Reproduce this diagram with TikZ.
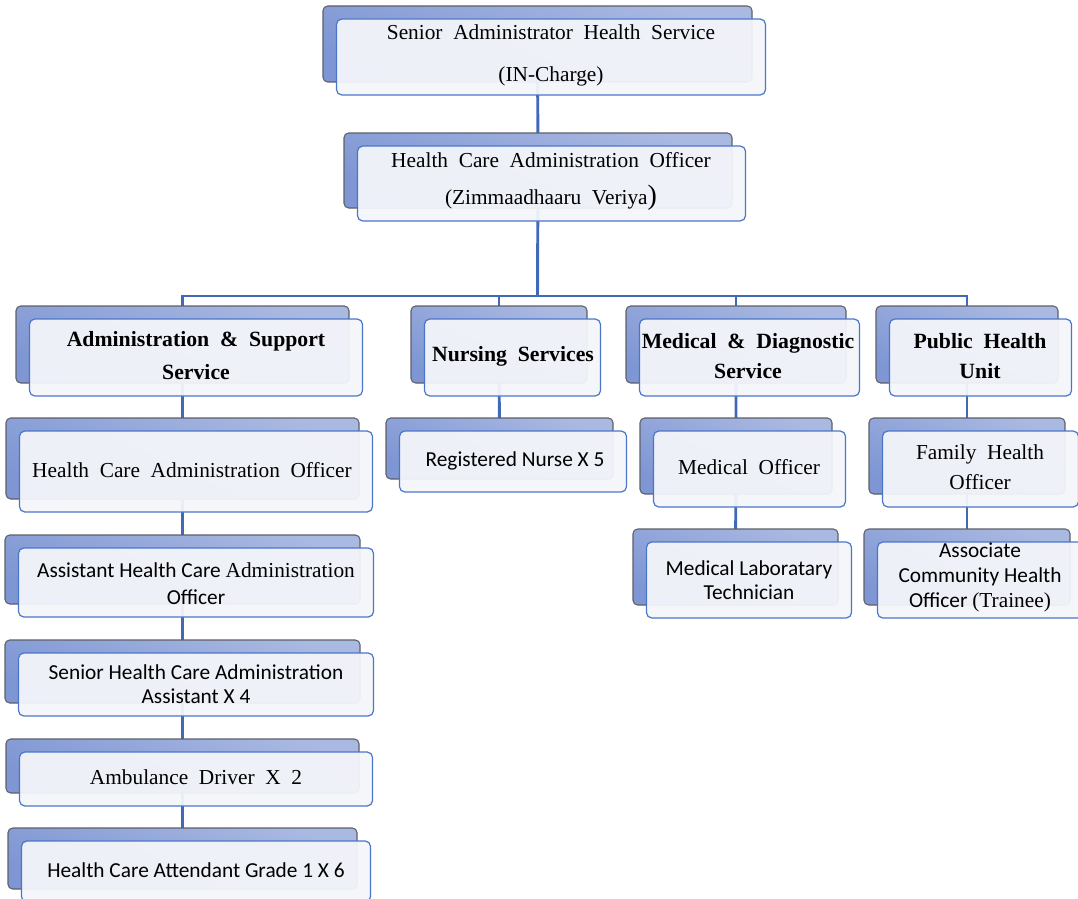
\documentclass[tikz,border=0pt]{standalone}
\usepackage{fontspec}
\setmainfont{Liberation Serif}[WordSpace=2]
\newfontfamily\tms{Liberation Serif}[WordSpace=2]
\newfontfamily\calib{Carlito}
\usetikzlibrary{backgrounds}
\definecolor{backtop}{HTML}{AAB9E2}
\definecolor{backbot}{HTML}{7E96D3}
\definecolor{backedge}{HTML}{5E6068}
\definecolor{frontedge}{HTML}{4A76CA}
\definecolor{frontfill}{HTML}{F4F5FA}
\definecolor{connc}{HTML}{4069B8}
\tikzset{
  backbox/.style={rectangle, rounded corners=3.5pt, draw=backedge, line width=0.8pt,
    top color=backtop, bottom color=backbot, shading angle=-25, inner sep=0pt, outer sep=0pt},
  frontbox/.style={rectangle, rounded corners=4pt, draw=frontedge, line width=0.9pt,
    fill=frontfill, fill opacity=0.95, inner sep=0pt, outer sep=0pt},
  conn/.style={draw=connc, line width=2.2pt},
  serif/.style={align=center, inner sep=0pt, font=\tms\fontsize{16}{#1}\selectfont},
  serif/.default=22.5,
  bserif/.style={align=center, inner sep=0pt, font=\tms\bfseries\fontsize{16.3}{#1}\selectfont},
  bserif/.default=22.5,
  sans/.style={align=center, inner sep=0pt, font=\calib\fontsize{16}{#1}\selectfont},
  sans/.default=18
}
% name, x1, y1, x2, y2 of the back box (pixel units)
\newcommand\unitbox[5]{%
  \node[backbox, minimum width={(#4-#2)*0.75pt}, minimum height={(#5-#3)*0.75pt}]
    (#1) at ({(#2+#4)/2},{(#3+#5)/2}) {};
  \node[frontbox, minimum width={(#4-#2)*0.75pt}, minimum height={(#5-#3)*0.75pt}]
    (#1f) at ({(#2+#4)/2+13.5},{(#3+#5)/2+13}) {};
}
\begin{document}
\begin{tikzpicture}[x=0.75pt,y=-0.75pt]
\useasboundingbox (0,0) rectangle (1078,899);
\clip (0,0) rectangle (1078,899);

\unitbox{top}{323}{6}{752}{82}
\unitbox{hcaoa}{344}{133}{732}{208}
\unitbox{admin}{16}{306}{349}{383}
\unitbox{nurs}{411}{306}{587}{383}
\unitbox{med}{626}{306}{846}{383}
\unitbox{pub}{876}{306}{1058}{383}
\unitbox{hcao}{6}{418}{359}{499}
\unitbox{reg}{386}{418}{613}{479}
\unitbox{mo}{640}{418}{832}{494}
\unitbox{fho}{869}{418}{1065}{494}
\unitbox{mlt}{633}{529}{838}{605}
\unitbox{acho}{864}{529}{1070}{605}
\unitbox{ahca}{5}{535}{360}{604}
\unitbox{shca}{5}{640}{360}{703}
\unitbox{amb}{6}{739}{359}{793}
\unitbox{hcag}{8}{828}{357}{889}

\coordinate (bar) at (537.5,296);
\begin{scope}[on background layer]
  \draw[conn] (top.center) -- (hcaoa.center) -- (bar);
  \draw[conn] (bar) -| (admin.center);
  \draw[conn] (bar) -| (nurs.center);
  \draw[conn] (bar) -| (med.center);
  \draw[conn] (bar) -| (pub.center);
  \draw[conn] (admin.center) -- (hcao.center) -- (ahca.center) -- (shca.center) -- (amb.center) -- (hcag.center);
  \draw[conn] (nurs.center) -- (reg.center);
  \draw[conn] (med.center) -- (mo.center) -- (mlt.center);
  \draw[conn] (pub.center) -- (fho.center) -- (acho.center);
\end{scope}

\node[serif=31.5] (t-top) at (551,55) {Senior Administrator Health Service\\(IN-Charge)};
\node[serif=27.75] (t-hcaoa) at (551,181) {Health Care Administration Officer\\(Zimmaadhaaru Veriya{\fontsize{21}{21}\selectfont)}};
\node[bserif=24.75] (t-admin) at (196,355.5) {Administration \& Support\\Service};
\node[bserif] (t-nurs) at (513,356) {Nursing Services};
\node[bserif] (t-med) at (748,356) {Medical \& Diagnostic\\Service};
\node[bserif] (t-pub) at (980,356) {Public Health\\Unit};
\node[serif] (t-hcao) at (192,470) {Health Care Administration Officer};
\node[sans] (t-reg) at (515,461) {Registered Nurse X 5};
\node[serif] (t-mo) at (749,467) {Medical Officer};
\node[serif] (t-fho) at (980,467) {Family Health\\Officer};
\node[sans] (t-mlt) at (749,580) {Medical Laboratary\\Technician};
\node[sans=18.75] (t-acho) at (980,577) {Associate\\Community Health\\Officer {\tms(Trainee)}};
\node[sans=20] (t-ahca) at (196,583.5) {Assistant Health Care {\tms Administration}\\Officer};
\node[sans] (t-shca) at (196,684) {Senior Health Care Administration\\Assistant X 4};
\node[serif] (t-amb) at (196,777) {Ambulance Driver X 2};
\node[sans] (t-hcag) at (196,870) {Health Care Attendant Grade 1 X 6};
\end{tikzpicture}
\end{document}
